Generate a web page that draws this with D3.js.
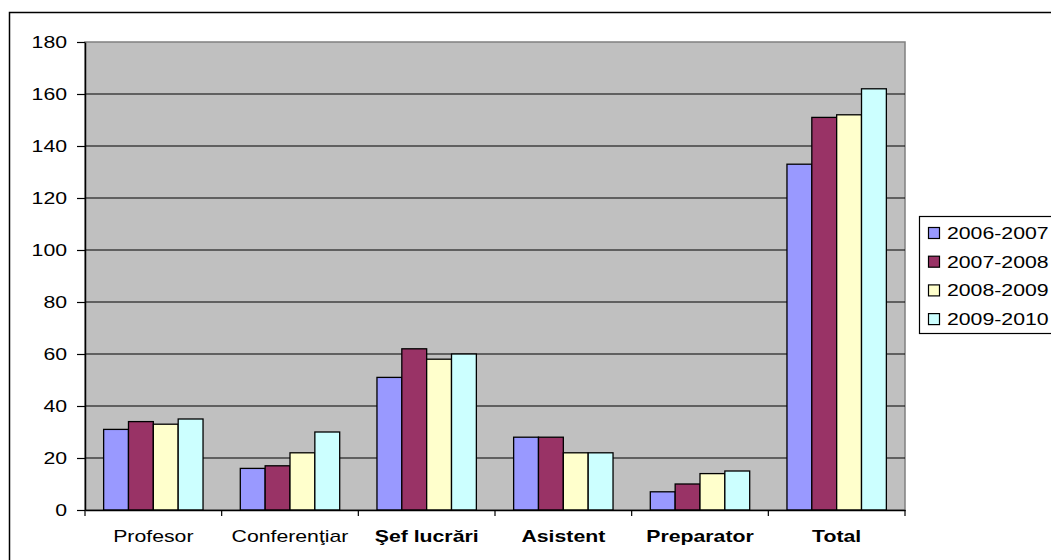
<!DOCTYPE html>
<html>
<head>
<meta charset="utf-8">
<script src="https://cdn.jsdelivr.net/npm/d3@7"></script>
<style>
  body { margin: 0; background: #fff; }
  text { font-family: "Liberation Sans", Arial, sans-serif; }
</style>
</head>
<body>
<div id="chart"></div>
<script>
// categories and series
const categories = ["Profesor", "Conferenţiar", "Şef lucrări", "Asistent", "Preparator", "Total"];
const boldCats = ["Şef lucrări", "Asistent", "Preparator", "Total"];
const seriesNames = ["2006-2007", "2007-2008", "2008-2009", "2009-2010"];
const s2006 = [31, 16, 51, 28, 7, 133];
const s2007 = [34, 17, 62, 28, 10, 151];
const s2008 = [33, 22, 58, 22, 14, 152];
const s2009 = [35, 30, 60, 22, 15, 162];
const yTicks = [0, 20, 40, 60, 80, 100, 120, 140, 160, 180];
const colors = ["#9999FF", "#993366", "#FFFFCC", "#CCFFFF"];

const allSeries = [s2006, s2007, s2008, s2009];

const W = 1051, H = 560;
const plot = { left: 85, top: 42, right: 905, bottom: 510 };
const stretch = 1.25; // the original text is drawn wide

// widen a text horizontally around its own x anchor
function widen(sel) {
  sel.each(function () {
    const t = d3.select(this);
    const x = +t.attr("x") || 0;
    t.attr("transform", `translate(${x * (1 - stretch)},0) scale(${stretch},1)`);
  });
}

const svg = d3.select("#chart").append("svg")
  .attr("width", W).attr("height", H);

// outer chart border (clipped at right/bottom like the original)
svg.append("rect")
  .attr("x", 9.5).attr("y", 12.5)
  .attr("width", 1200).attr("height", 700)
  .attr("fill", "#fff").attr("stroke", "#000").attr("stroke-width", 1.5);

const x0 = d3.scaleBand().domain(categories).range([plot.left, plot.right]).padding(0);
const bw = x0.bandwidth();
const x1 = d3.scaleBand().domain(seriesNames)
  .range([bw * 0.75 / 5.5, bw * 4.75 / 5.5]).padding(0);
const y = d3.scaleLinear().domain([0, 180]).range([plot.bottom, plot.top]);

// plot background
svg.append("rect")
  .attr("x", plot.left).attr("y", plot.top)
  .attr("width", plot.right - plot.left).attr("height", plot.bottom - plot.top)
  .attr("fill", "#C0C0C0").attr("stroke", "#808080").attr("stroke-width", 1.5);

// gridlines
svg.append("g").selectAll("line")
  .data(yTicks.filter(d => d > 0 && d < 180))
  .enter().append("line")
  .attr("x1", plot.left).attr("x2", plot.right)
  .attr("y1", d => y(d)).attr("y2", d => y(d))
  .attr("stroke", "#000").attr("stroke-width", 1.2);

// bars
const groups = svg.append("g").selectAll("g")
  .data(categories)
  .enter().append("g")
  .attr("transform", d => `translate(${x0(d)},0)`);

groups.selectAll("rect")
  .data((c, ci) => seriesNames.map((s, si) => ({ s, si, v: allSeries[si][ci] })))
  .enter().append("rect")
  .attr("x", d => x1(d.s))
  .attr("y", d => y(d.v))
  .attr("width", x1.bandwidth())
  .attr("height", d => y(0) - y(d.v))
  .attr("fill", d => colors[d.si])
  .attr("stroke", "#000").attr("stroke-width", 1.3);

// y axis
const yAxis = svg.append("g")
  .attr("transform", `translate(${plot.left},0)`)
  .call(d3.axisLeft(y).tickValues(yTicks).tickSize(8).tickPadding(10).tickSizeOuter(0));
yAxis.select(".domain").attr("stroke", "#000").attr("stroke-width", 1.5);
yAxis.selectAll(".tick line").attr("stroke", "#000").attr("stroke-width", 1.2);
yAxis.selectAll("text").style("font-size", "17px").attr("fill", "#000")
  .style("font-family", "'Liberation Sans', Arial, sans-serif")
  .attr("x", -18)
  .call(widen);

// x axis
const xAxis = svg.append("g")
  .attr("transform", `translate(0,${plot.bottom})`)
  .call(d3.axisBottom(x0).tickSize(0).tickPadding(20).tickSizeOuter(0));
xAxis.select(".domain").attr("stroke", "#000").attr("stroke-width", 1.5);
xAxis.selectAll("text")
  .style("font-size", "17px").attr("fill", "#000")
  .style("font-family", "'Liberation Sans', Arial, sans-serif")
  .style("font-weight", d => boldCats.includes(d) ? "bold" : "normal")
  .call(widen);

// category separator ticks
svg.append("g").selectAll("line")
  .data(categories.map(c => x0(c)).concat([plot.right]))
  .enter().append("line")
  .attr("x1", d => d).attr("x2", d => d)
  .attr("y1", plot.bottom).attr("y2", plot.bottom + 6)
  .attr("stroke", "#000").attr("stroke-width", 1.2);

// legend
const legend = svg.append("g").attr("transform", "translate(919,216)");
legend.append("rect")
  .attr("x", 0.5).attr("y", 0.5).attr("width", 200).attr("height", 117)
  .attr("fill", "#fff").attr("stroke", "#000").attr("stroke-width", 1.2);

seriesNames.forEach((s, i) => {
  const row = legend.append("g").attr("transform", `translate(9,${17 + i * 28.7})`);
  row.append("rect")
    .attr("x", 0.5).attr("y", -5.5).attr("width", 11).attr("height", 11)
    .attr("fill", colors[i]).attr("stroke", "#000").attr("stroke-width", 1.2);
  row.append("text")
    .attr("x", 19).attr("y", 6)
    .style("font-size", "17px")
    .text(s)
    .call(widen);
});
</script>
</body>
</html>
